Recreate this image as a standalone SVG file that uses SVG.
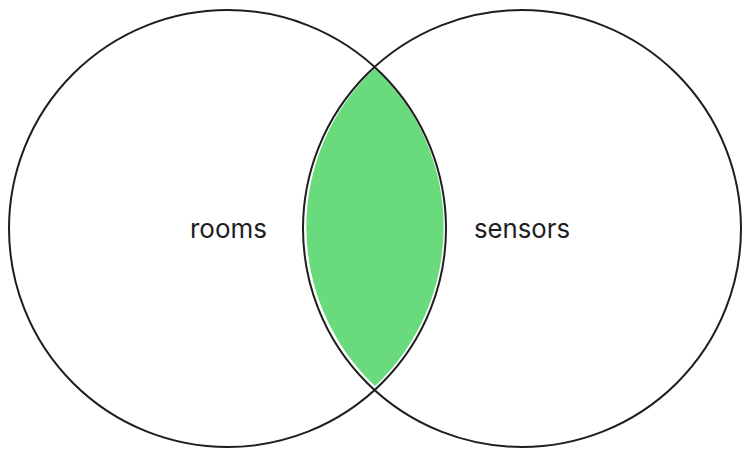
<svg xmlns="http://www.w3.org/2000/svg" width="750" height="457" viewBox="0 0 750 457">
<style>
.c{fill:none;stroke:#1e1e1e;stroke-width:2}
.t{font-family:Inter,"Liberation Sans",sans-serif;font-size:26px;fill:#1e1e1e;text-anchor:middle}
</style>
<rect width="750" height="457" fill="#ffffff"/>
<g id="intersection">
<path d="M375,68 A218.5,218.5 0 0,1 375,386 A218.5,218.5 0 0,1 375,68 Z" fill="#69db7c"/>
</g>
<g id="rooms">
<ellipse class="c" cx="227.5" cy="228.5" rx="218.5" ry="218.5"/>
<text class="t" x="228.5" y="238" textLength="77" lengthAdjust="spacingAndGlyphs">rooms</text>
</g>
<g id="sensors">
<ellipse class="c" cx="522" cy="228.5" rx="219" ry="218.5"/>
<text class="t" x="522" y="238" textLength="96" lengthAdjust="spacingAndGlyphs">sensors</text>
</g>
<g id="connectors"></g>
</svg>
